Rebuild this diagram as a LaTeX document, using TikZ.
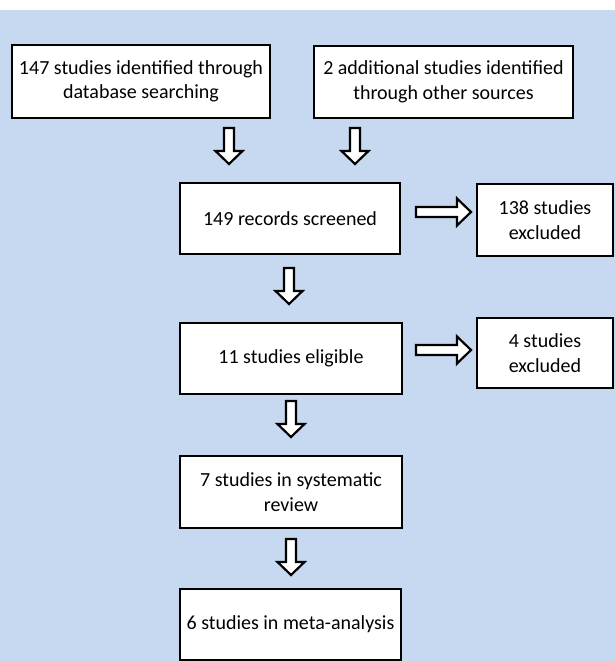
\documentclass[tikz,border=0pt]{standalone}
\usepackage{fontspec}
\setmainfont{Carlito}
\definecolor{bgblue}{RGB}{198,217,240}
\begin{document}
\begin{tikzpicture}[x=1pt,y=-1pt,
  box/.style={draw=black, line width=2.75pt, fill=white, align=center,
    font=\fontsize{20}{24.5}\selectfont, inner sep=0pt},
  arrowline/.style={draw=black, line width=2.2pt, fill=white, line join=miter},
  darrow/.pic={\path[arrowline] (-5,0) -- (-5,23) -- (-13.5,23) -- (0,36) -- (13.5,23) -- (5,23) -- (5,0) -- cycle;},
  rarrow/.pic={\path[arrowline] (0,-5) -- (41,-5) -- (41,-13.5) -- (55,0) -- (41,13.5) -- (41,5) -- (0,5) -- cycle;}
]
\useasboundingbox (0,0) rectangle (615,662);
\fill[white] (0,0) rectangle (615,662);
\fill[bgblue] (0,10) rectangle (615,662);

\node[box, minimum width=258, minimum height=73] (b1) at (141,81.5) {147 studies identified through\\database searching};
\node[box, minimum width=259, minimum height=72] (b2) at (443.5,82) {2 additional studies identified\\through other sources};
\node[box, minimum width=220, minimum height=71] (b3) at (290,218.5) {149 records screened};
\node[box, minimum width=136, minimum height=72] (e1) at (545,220) {138 studies\\excluded};
\node[box, minimum width=222, minimum height=71] (b4) at (291,358.5) {11 studies eligible};
\node[box, minimum width=136, minimum height=70] (e2) at (545,353) {4 studies\\excluded};
\node[box, minimum width=222, minimum height=72] (b5) at (291,492) {7 studies in systematic\\review};
\node[box, minimum width=221, minimum height=71] (b6) at (290.5,624.5) {6 studies in meta-analysis};

\pic at (229,128) {darrow};
\pic at (355,128) {darrow};
\pic at (289,268) {darrow};
\pic at (291,401) {darrow};
\pic at (291,539) {darrow};
\pic at (416,212) {rarrow};
\pic at (416,350) {rarrow};
\end{tikzpicture}
\end{document}
